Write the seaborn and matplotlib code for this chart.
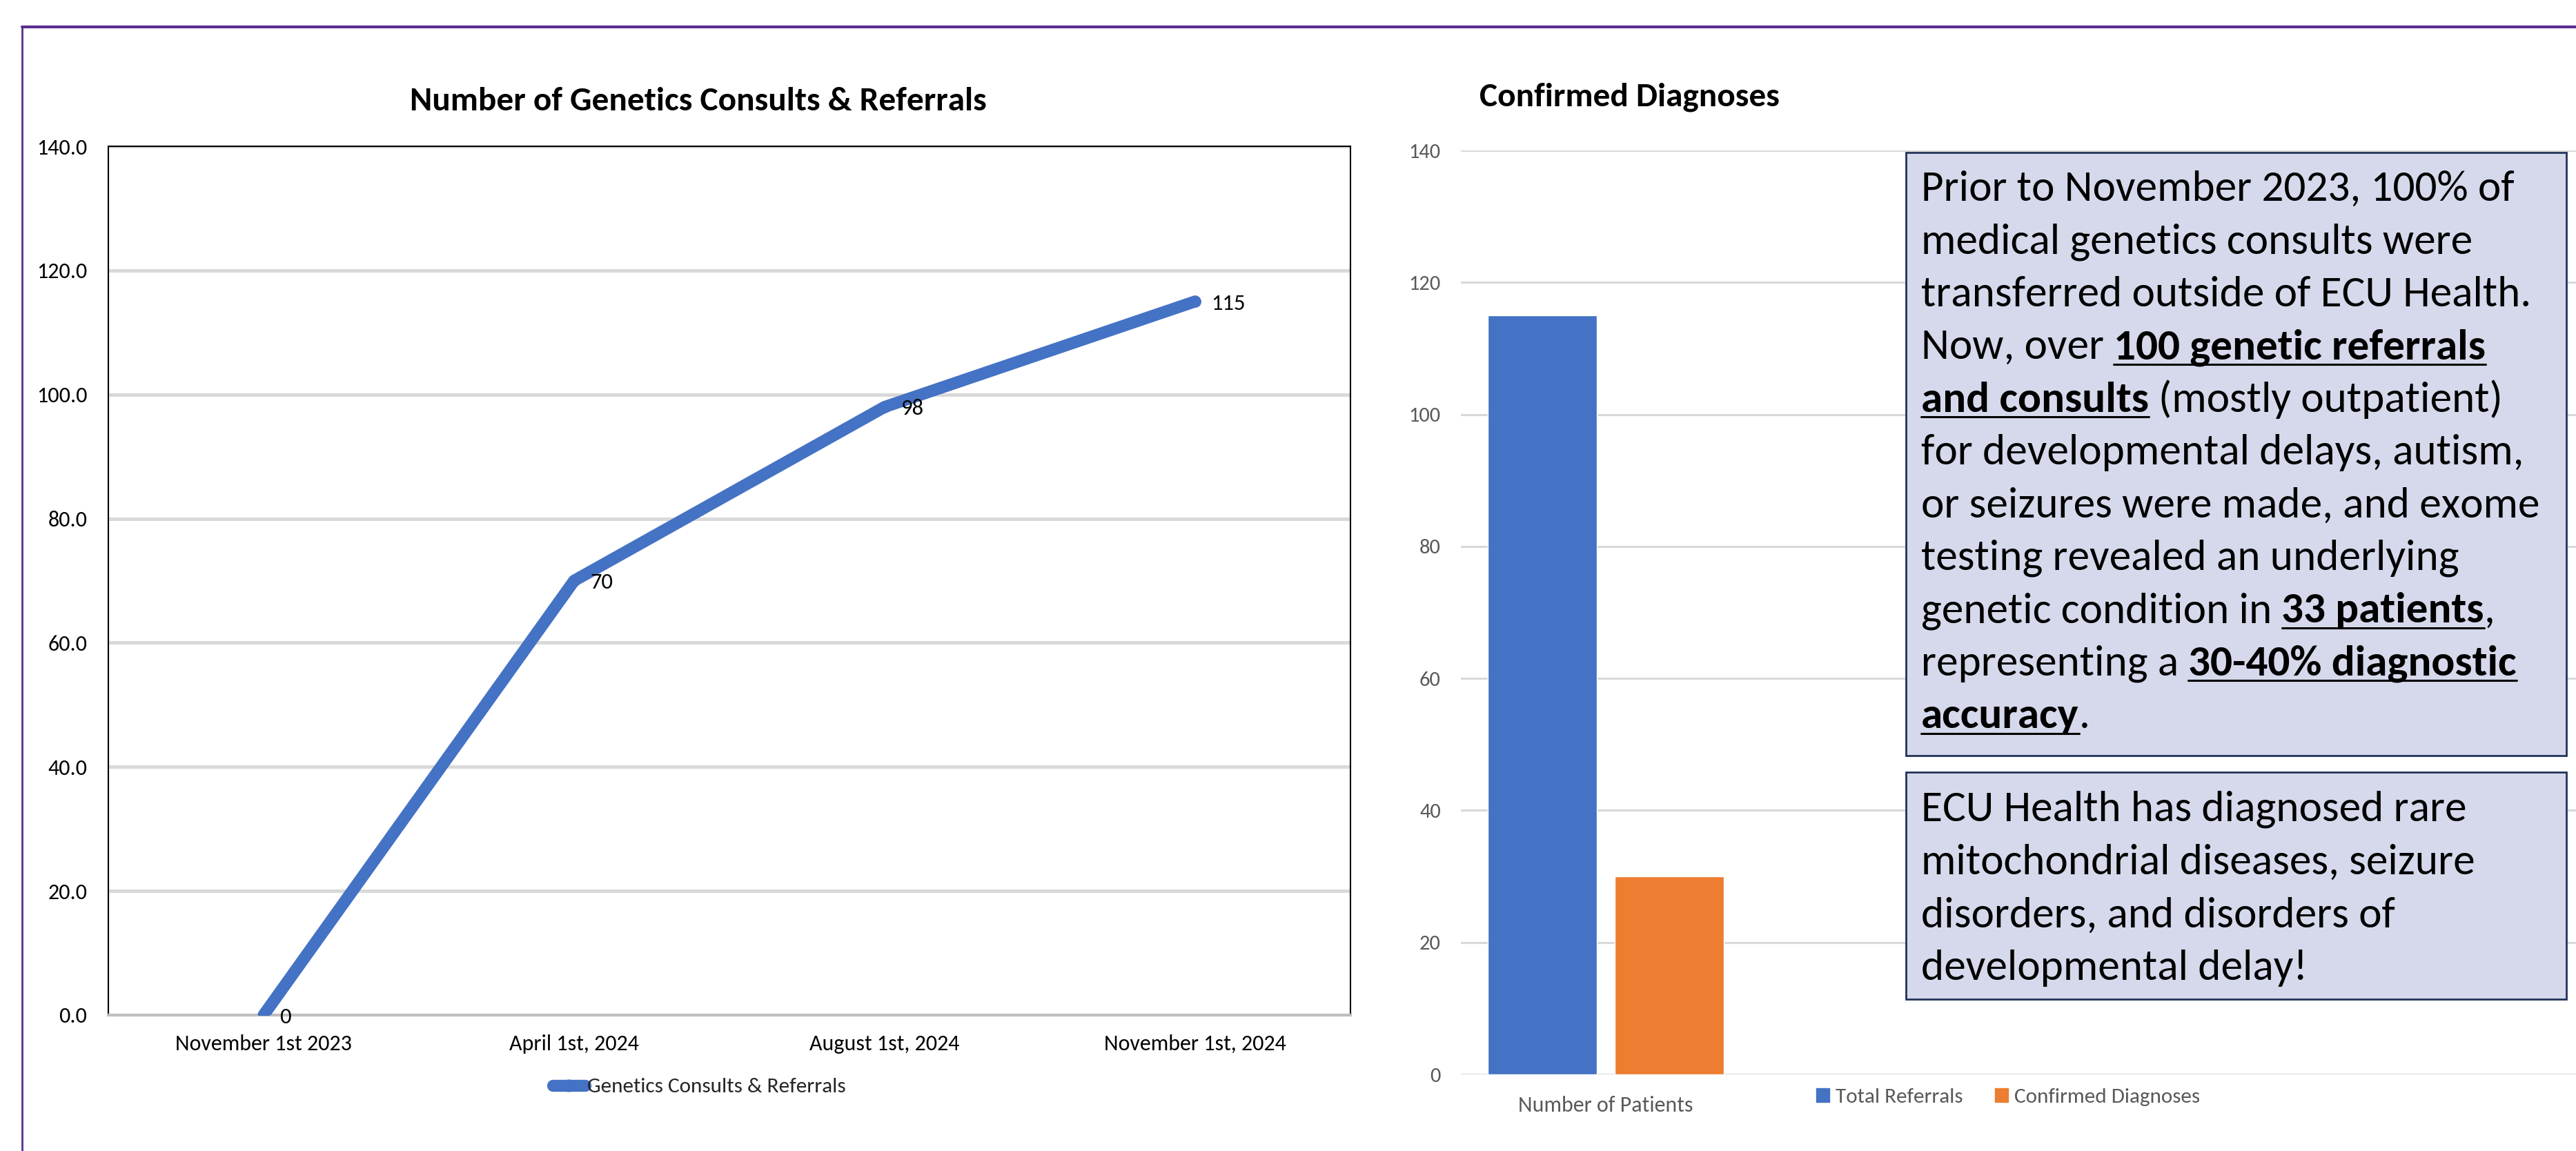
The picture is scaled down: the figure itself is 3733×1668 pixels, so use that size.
import numpy as np
import pandas as pd
import matplotlib
matplotlib.use("Agg")
import matplotlib.pyplot as plt
import seaborn as sns
from matplotlib import font_manager
from matplotlib.transforms import IdentityTransform
from matplotlib.lines import Line2D
from matplotlib.patches import Rectangle

# ---------------- data ----------------
dates = ["November 1st 2023", "April 1st, 2024", "August 1st, 2024", "November 1st, 2024"]
consults = [0, 70, 98, 115]
line_series = "Genetics Consults & Referrals"
left_title = "Number of Genetics Consults & Referrals"
left_yticks = [0, 20, 40, 60, 80, 100, 120, 140]

bar_category = ["Number of Patients"]
bar_series = ["Total Referrals", "Confirmed Diagnoses"]
bar_values = [115, 30]
right_title = "Confirmed Diagnoses"
right_yticks = [0, 20, 40, 60, 80, 100, 120, 140]

# text boxes: lines made of (text, bold_underlined)
box1_lines = [
    [("Prior to November 2023, 100% of", False)],
    [("medical genetics consults were", False)],
    [("transferred outside of ECU Health.", False)],
    [("Now, over ", False), ("100 genetic referrals", True)],
    [("and consults", True), (" (mostly outpatient)", False)],
    [("for developmental delays, autism,", False)],
    [("or seizures were made, and exome", False)],
    [("testing revealed an underlying", False)],
    [("genetic condition in ", False), ("33 patients", True), (",", False)],
    [("representing a ", False), ("30-40% diagnostic", True)],
    [("accuracy", True), (".", False)],
]
box2_lines = [
    [("ECU Health has diagnosed rare", False)],
    [("mitochondrial diseases, seizure", False)],
    [("disorders, and disorders of", False)],
    [("developmental delay!", False)],
]

BLUE = "#4472C4"
ORANGE = "#ED7D31"
GRAY_TXT = "#595959"
GRID = "#D9D9D9"

# ---------------- style ----------------
sns.set_theme(style="white")
avail = {f.name for f in font_manager.fontManager.ttflist}
main_font = next(f for f in ["Carlito", "Lato", "Open Sans", "DejaVu Sans"] if f in avail)
plt.rcParams["font.family"] = [main_font, "DejaVu Sans"]

W, H = 3733, 1668
DPI = 100
fig = plt.figure(figsize=(W / DPI, H / DPI), dpi=DPI)
fig.patch.set_facecolor("white")


def fx(px):
    return px / W


def fy(py):
    return 1 - py / H


# ---------------- left chart ----------------
axL = fig.add_axes([fx(157), fy(1471), (1957 - 157) / W, (1471 - 212) / H])
df_line = pd.DataFrame({"date": dates, "count": consults})
sns.lineplot(data=df_line, x="date", y="count", ax=axL, color=BLUE, linewidth=12.5,
             marker="o", markersize=12, markeredgewidth=0, sort=False,
             solid_capstyle="round", solid_joinstyle="round", legend=False, zorder=3)
axL.set_xlim(-0.5, len(dates) - 0.5)
axL.set_ylim(0, 140)
axL.set_yticks(left_yticks)
axL.set_yticklabels([f"{v:.1f}" for v in left_yticks])
axL.grid(axis="y", color=GRID, linewidth=3.6)
axL.grid(axis="x", visible=False)
axL.set_axisbelow(True)
for s in ["left", "top", "right"]:
    axL.spines[s].set_color("black")
    axL.spines[s].set_linewidth(1.5)
axL.spines["bottom"].set_color("#BFBFBF")
axL.spines["bottom"].set_linewidth(3)
axL.tick_params(axis="both", length=0, labelsize=23, colors="black")
axL.tick_params(axis="y", pad=22)
axL.tick_params(axis="x", pad=20)
axL.set_xlabel("")
axL.set_ylabel("")

for i, v in enumerate(consults):
    axL.annotate(str(v), (i, v), xytext=(17, -2), textcoords="offset points",
                 ha="left", va="center", fontsize=23.5, color="black", zorder=4)

axL.legend(handles=[Line2D([], [], color=BLUE, lw=12.5, marker="o", markersize=12,
                           solid_capstyle="round")],
           labels=[line_series], loc="center",
           bbox_to_anchor=(fx(1013), fy(1575)), bbox_transform=fig.transFigure,
           frameon=False, fontsize=22.5, handlelength=1.5, handletextpad=0.1)

fig.text(fx(1012), fy(160), left_title, ha="center", va="baseline",
         fontsize=35.5, fontweight="bold", color="black")

# ---------------- right chart ----------------
axR = fig.add_axes([fx(2117), fy(1557), 1 - fx(2117), (1557 - 218) / H])
df_bar = pd.DataFrame({"metric": bar_category * len(bar_series),
                       "series": bar_series, "value": bar_values})
sns.barplot(data=df_bar, x="metric", y="value", hue="series",
            palette=[BLUE, ORANGE], ax=axR, width=0.8, gap=0.14,
            saturation=1, legend=False, zorder=3)
axR.set_xlim(-0.457, 3.057)
axR.set_ylim(0, 140)
axR.set_yticks(right_yticks)
axR.set_yticklabels([str(v) for v in right_yticks])
axR.grid(axis="y", color=GRID, linewidth=2.2)
axR.grid(axis="x", visible=False)
axR.set_axisbelow(True)
for s in axR.spines.values():
    s.set_visible(False)
axR.tick_params(axis="both", length=0, labelsize=22, colors=GRAY_TXT)
axR.tick_params(axis="x", labelsize=23, pad=22)
axR.tick_params(axis="y", pad=21)
axR.set_xlabel("")
axR.set_ylabel("")

axR.legend(handles=[Rectangle((0, 0), 1, 1, color=BLUE), Rectangle((0, 0), 1, 1, color=ORANGE)],
           labels=bar_series, loc="center", ncol=2,
           bbox_to_anchor=(fx(2910), fy(1590)), bbox_transform=fig.transFigure,
           frameon=False, fontsize=22.4, labelcolor=GRAY_TXT,
           handlelength=0.6, handleheight=0.6, handletextpad=0.3, columnspacing=1.5)

fig.text(fx(2361), fy(153), right_title, ha="center", va="baseline",
         fontsize=35.5, fontweight="bold", color="black")

# ---------------- text boxes ----------------
ID = IdentityTransform()
fig.add_artist(Rectangle((2762, H - 1095), 3719 - 2762, 1095 - 221, transform=ID,
                         facecolor="#D5D9EB", edgecolor="#22325A", lw=2, zorder=10))
fig.add_artist(Rectangle((2762, H - 1448), 3719 - 2762, 1448 - 1119, transform=ID,
                         facecolor="#D5D9EB", edgecolor="#22325A", lw=2, zorder=10))

renderer = fig.canvas.get_renderer()


def text_w(s, size, weight):
    t = fig.text(0, 0, s, fontsize=size, fontweight=weight, transform=ID)
    w = t.get_window_extent(renderer).width
    t.remove()
    return w


def line_width(line, size):
    total = 0
    for seg, b in line:
        wgt = "bold" if b else "normal"
        sp = text_w("a a", size, wgt) - text_w("aa", size, wgt)
        core = seg.strip(" ")
        lead = len(seg) - len(seg.lstrip(" "))
        trail = len(seg) - len(seg.rstrip(" "))
        total += (lead + trail) * sp + (text_w(core, size, wgt) if core else 0)
    return total


def draw_rich(lines, x0, base0, step, size):
    for k, line in enumerate(lines):
        y = H - (base0 + k * step)
        x = x0
        for seg, b in line:
            wgt = "bold" if b else "normal"
            sp = text_w("a a", size, wgt) - text_w("aa", size, wgt)
            core = seg.strip(" ")
            lead = len(seg) - len(seg.lstrip(" "))
            trail = len(seg) - len(seg.rstrip(" "))
            x += lead * sp
            if core:
                t = fig.text(x, y, core, fontsize=size, fontweight=wgt, color="black",
                             ha="left", va="baseline", transform=ID, zorder=11)
                w = t.get_window_extent(renderer).width
                if b:
                    uy = y - size * DPI / 72 * 0.12
                    fig.add_artist(Line2D([x, x + w], [uy, uy], transform=ID,
                                          color="black", lw=2.2, zorder=11))
                x += w
            x += trail * sp


size = 45.5
maxw = max(line_width(l, size) for l in box1_lines + box2_lines)
if maxw > 925:
    size = size * 925 / maxw

draw_rich(box1_lines, 2784, 291, 76.4, size)
draw_rich(box2_lines, 2784, 1190, 76.7, size)

# ---------------- outer frame ----------------
fig.add_artist(Line2D([32, W], [H - 39, H - 39], transform=ID, color="#5B2D8E", lw=3, zorder=12))
fig.add_artist(Line2D([32, 32], [0, H - 39], transform=ID, color="#5B2D8E", lw=2, zorder=12))

fig.savefig("out.png", dpi=DPI)
